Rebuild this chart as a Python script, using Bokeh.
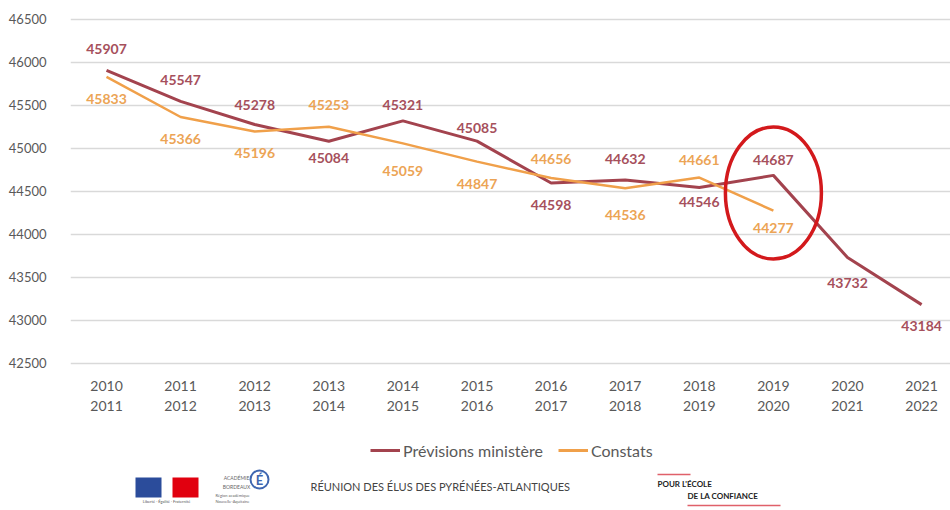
from bokeh.plotting import figure
from bokeh.models import Range1d, Legend, LegendItem, ColumnDataSource, FixedTicker
from bokeh.layouts import column
from bokeh.embed import file_html
from bokeh.resources import INLINE
from bokeh.core.properties import value

# ---------------- data ----------------
categories = ["2010\n2011", "2011\n2012", "2012\n2013", "2013\n2014", "2014\n2015",
              "2015\n2016", "2016\n2017", "2017\n2018", "2018\n2019", "2019\n2020",
              "2020\n2021", "2021\n2022"]
previsions = [45907, 45547, 45278, 45084, 45321, 45085, 44598, 44632, 44546, 44687, 43732, 43184]
constats = [45833, 45366, 45196, 45253, 45059, 44847, 44656, 44536, 44661, 44277]
y_ticks = [42500, 43000, 43500, 44000, 44500, 45000, 45500, 46000, 46500]
series_names = ["Prévisions ministère", "Constats"]
highlight_index = 9  # 2019-2020 circled

# ---------------- styles ----------------
FONT = "Lato"
PREV_COLOR = "#A3434E"
PREV_LABEL = "#A6505C"
CONS_COLOR = "#F0A04A"
CONS_LABEL = "#ECA455"
GRAY = "#595959"
prev_dy = [-21, -21, -20, 17, -16, -13, 22, -21, 14, -15, 25, 21]
cons_dy = [22, 22, 21, -22, 28, 22, -19, 27, -18, 17]

x_prev = list(range(len(previsions)))
x_cons = list(range(len(constats)))

p = figure(width=950, height=430,
           x_range=Range1d(-0.486, 11.39), y_range=Range1d(42453, 46546),
           output_backend="svg", toolbar_location=None,
           min_border_left=70, min_border_right=0, min_border_top=15, min_border_bottom=63)
p.outline_line_color = None
p.background_fill_color = "white"
p.border_fill_color = "white"

p.xaxis.ticker = FixedTicker(ticks=list(range(len(categories))))
p.xaxis.major_label_overrides = {i: c for i, c in enumerate(categories)}
p.yaxis.ticker = FixedTicker(ticks=y_ticks)
for ax in (p.xaxis, p.yaxis):
    ax.axis_line_color = None
    ax.major_tick_line_color = None
    ax.minor_tick_line_color = None
    ax.major_label_text_font = FONT
    ax.major_label_text_color = GRAY
p.xaxis.major_label_text_font_size = "14px"
p.yaxis.major_label_text_font_size = "13px"
p.xaxis.major_label_standoff = 3
p.xaxis.major_label_text_line_height = 1.2
p.yaxis.major_label_standoff = 18
p.xgrid.visible = False
p.ygrid.grid_line_color = "#d9d9d9"
p.ygrid.grid_line_width = 1.3

p.line(x_prev, previsions, line_color=PREV_COLOR, line_width=3)
p.line(x_cons, constats, line_color=CONS_COLOR, line_width=2.5)

src_p = ColumnDataSource(dict(x=x_prev, y=previsions, t=[str(v) for v in previsions], dy=prev_dy))
src_c = ColumnDataSource(dict(x=x_cons, y=constats, t=[str(v) for v in constats], dy=cons_dy))
for src, col in ((src_p, PREV_LABEL), (src_c, CONS_LABEL)):
    p.text(x="x", y="y", text="t", y_offset="dy", source=src,
           text_align="center", text_baseline="middle",
           text_font=value(FONT), text_font_style="bold", text_font_size="14px",
           text_color=col)

p.ellipse(x=[highlight_index], y=[(previsions[highlight_index] + constats[highlight_index]) / 2],
          width=96, height=132, width_units="screen", height_units="screen",
          fill_color=None, line_color="#D3191C", line_width=3.5)

# ---------------- footer (legend + logos) ----------------
# the column aligns this frame with the chart frame (page x 70..950)
f = figure(width=950, height=80, x_range=Range1d(70, 950), y_range=Range1d(510, 430),
           output_backend="svg", toolbar_location=None, min_border=0)
f.axis.visible = False
f.grid.visible = False
f.outline_line_color = None
f.border_fill_color = "white"

# legend proxies (off-screen)
r1 = f.line([-100, -90], [0, 0], line_color=PREV_COLOR, line_width=3)
r2 = f.line([-100, -90], [0, 0], line_color=CONS_COLOR, line_width=3)
legend = Legend(items=[LegendItem(label=series_names[0], renderers=[r1]),
                       LegendItem(label=series_names[1], renderers=[r2])],
                orientation="horizontal", location=(300, 50),
                padding=0, margin=0, spacing=15, glyph_width=30, glyph_height=20,
                label_height=20, label_standoff=3,
                label_text_font=FONT, label_text_font_size="16px", label_text_color=GRAY,
                border_line_color=None, background_fill_alpha=0)
f.add_layout(legend)

# Marianne logo
f.quad(left=[135], right=[161], top=[477], bottom=[497], fill_color="#2B4C9B", line_color=None)
f.quad(left=[172], right=[198], top=[477], bottom=[497], fill_color="#E1000F", line_color=None)
f.text(x=[166], y=[501], text=["Liberté · Égalité · Fraternité"], text_align="center",
       text_baseline="middle", text_font=value(FONT), text_font_size="4px", text_color="#555")
# Académie logo
f.text(x=[236], y=[482], text=["ACADÉMIE\nBORDEAUX"], text_align="center", text_baseline="middle",
       text_font=value(FONT), text_font_size="5px", text_color="#666", text_line_height=1.6)
f.circle(x=[259], y=[479], radius=9, radius_units="screen", fill_color=None,
         line_color="#3F66B0", line_width=2)
f.text(x=[259], y=[479], text=["É"], text_align="center", text_baseline="middle",
       text_font=value(FONT), text_font_style="bold", text_font_size="13px", text_color="#3F66B0")
f.text(x=[232], y=[498], text=["Région académique\nNouvelle-Aquitaine"], text_align="center",
       text_baseline="middle", text_font=value(FONT), text_font_size="4px", text_color="#666")

f.text(x=[310], y=[486], text=["RÉUNION DES ÉLUS DES PYRÉNÉES-ATLANTIQUES"], text_align="left",
       text_baseline="middle", text_font=value(FONT), text_font_size="11px", text_color="#444")

f.segment(x0=[657], y0=[474], x1=[690], y1=[474], line_color="#E0606A", line_width=1.5)
f.text(x=[657], y=[483], text=["POUR L'ÉCOLE"], text_align="left", text_baseline="middle",
       text_font=value(FONT), text_font_style="bold", text_font_size="8px", text_color="#222")
f.text(x=[687], y=[495], text=["DE LA CONFIANCE"], text_align="left", text_baseline="middle",
       text_font=value(FONT), text_font_style="bold", text_font_size="8px", text_color="#222")
f.segment(x0=[687], y0=[505], x1=[780], y1=[505], line_color="#E0606A", line_width=1.5)

layout = column(p, f, spacing=0)
open("out.html", "w").write(file_html(layout, INLINE))
